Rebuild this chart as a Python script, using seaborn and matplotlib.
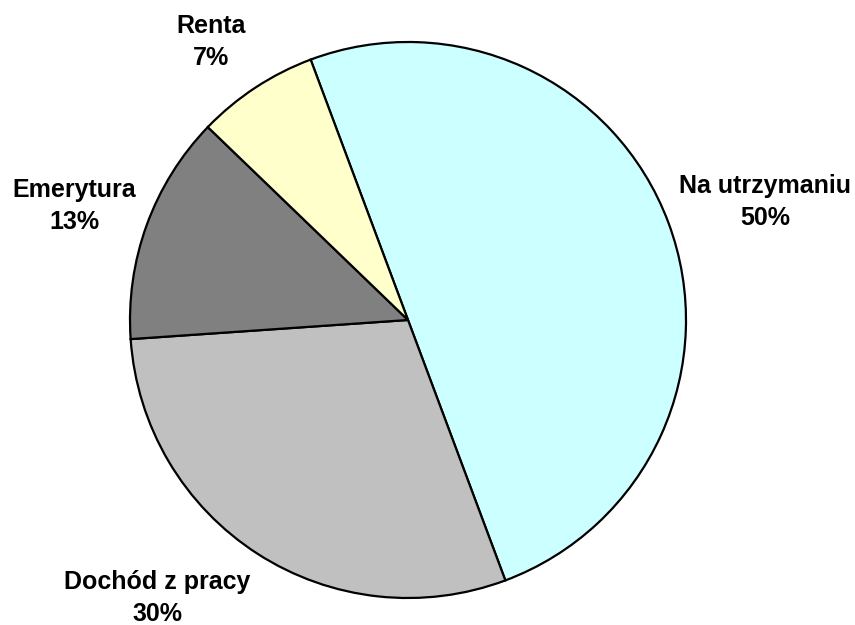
import matplotlib
matplotlib.use("Agg")
import matplotlib.pyplot as plt
import seaborn as sns

sns.set_theme(style="white")
plt.rcParams['font.family'] = ['Liberation Sans', 'DejaVu Sans']

categories = ["Na utrzymaniu", "Dochód z pracy", "Emerytura", "Renta"]
values = [50.0, 29.6, 13.3, 7.1]
colors = ["#CCFFFF", "#C0C0C0", "#808080", "#FFFFCC"]

# label positions (pixels in the figure), layout only
label_px = [(765, 202), (157, 598), (74, 206), (211, 42)]

W, H = 855, 625
fig = plt.figure(figsize=(W / 100, H / 100), dpi=100)
cx, cy, r = 408, 320, 278
ax = fig.add_axes([(cx - r) / W, (H - cy - r) / H, 2 * r / W, 2 * r / H])
ax.pie(values, colors=colors, startangle=110.5, counterclock=False,
       wedgeprops=dict(edgecolor="black", linewidth=1.6))
ax.set_xlim(-1, 1)
ax.set_ylim(-1, 1)
ax.set_aspect("equal")
ax.axis("off")

total = sum(values)
for cat, v, (px, py) in zip(categories, values, label_px):
    fig.text(px / W, 1 - py / H, f"{cat}\n{v / total * 100:.0f}%",
             ha="center", va="center", fontsize=18, fontweight="bold",
             linespacing=1.45, color="black")

fig.savefig("out.png", dpi=100, facecolor="white")
